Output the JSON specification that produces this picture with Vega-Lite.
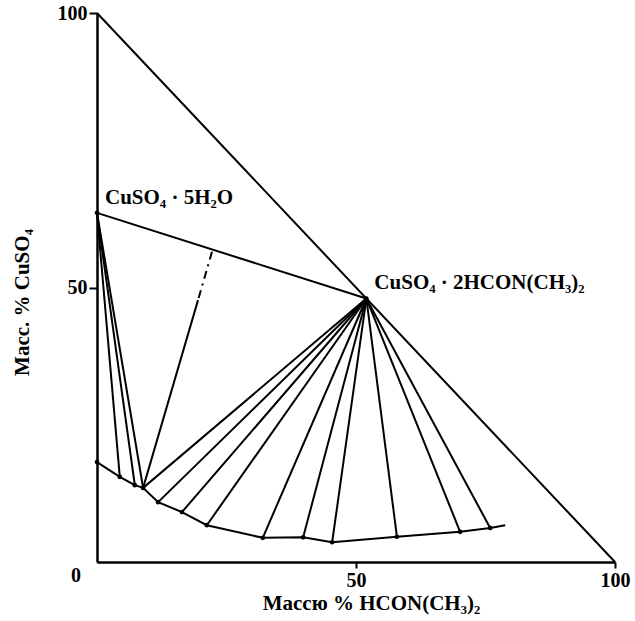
{
  "$schema": "https://vega.github.io/schema/vega-lite/v6.json",
  "autosize": "none",
  "width": 518,
  "height": 549,
  "padding": {"left": 97, "top": 13, "right": 20, "bottom": 59},
  "background": "white",
  "config": {
    "view": {"stroke": null},
    "axis": {
      "grid": false,
      "domainColor": "black",
      "domainWidth": 2.5,
      "tickColor": "black",
      "tickWidth": 2,
      "tickSize": 8,
      "labelFont": "Liberation Serif",
      "labelFontWeight": "bold",
      "labelFontSize": 20,
      "labelColor": "black",
      "titleFont": "Liberation Serif",
      "titleFontWeight": "bold",
      "titleFontSize": 21,
      "titleColor": "black"
    }
  },
  "datasets": {
    "solid": [
      {"id": "hyp", "o": 1, "x": 0, "y": 100},
      {"id": "hyp", "o": 2, "x": 100, "y": 0},
      {"id": "conn", "o": 1, "x": 0, "y": 63.6},
      {"id": "conn", "o": 2, "x": 52, "y": 48},
      {"id": "curve", "o": 1, "x": 0, "y": 18.2},
      {"id": "curve", "o": 2, "x": 4.4, "y": 15.5},
      {"id": "curve", "o": 3, "x": 7.3, "y": 14.0},
      {"id": "curve", "o": 4, "x": 8.9, "y": 13.5},
      {"id": "curve", "o": 5, "x": 11.8, "y": 10.9},
      {"id": "curve", "o": 6, "x": 16.4, "y": 9.1},
      {"id": "curve", "o": 7, "x": 21.2, "y": 6.7},
      {"id": "curve", "o": 8, "x": 32.0, "y": 4.4},
      {"id": "curve", "o": 9, "x": 39.8, "y": 4.5},
      {"id": "curve", "o": 10, "x": 45.4, "y": 3.6},
      {"id": "curve", "o": 11, "x": 57.9, "y": 4.6},
      {"id": "curve", "o": 12, "x": 70.1, "y": 5.5},
      {"id": "curve", "o": 13, "x": 75.9, "y": 6.2},
      {"id": "curve", "o": 14, "x": 78.8, "y": 6.7},
      {"id": "a1", "o": 1, "x": 0, "y": 63.6},
      {"id": "a1", "o": 2, "x": 4.4, "y": 15.5},
      {"id": "a2", "o": 1, "x": 0, "y": 63.6},
      {"id": "a2", "o": 2, "x": 7.3, "y": 14.0},
      {"id": "a3", "o": 1, "x": 0, "y": 63.6},
      {"id": "a3", "o": 2, "x": 8.9, "y": 13.5},
      {"id": "b1", "o": 1, "x": 52, "y": 48},
      {"id": "b1", "o": 2, "x": 8.9, "y": 13.5},
      {"id": "b2", "o": 1, "x": 52, "y": 48},
      {"id": "b2", "o": 2, "x": 11.8, "y": 10.9},
      {"id": "b3", "o": 1, "x": 52, "y": 48},
      {"id": "b3", "o": 2, "x": 16.4, "y": 9.1},
      {"id": "b4", "o": 1, "x": 52, "y": 48},
      {"id": "b4", "o": 2, "x": 21.2, "y": 6.7},
      {"id": "b5", "o": 1, "x": 52, "y": 48},
      {"id": "b5", "o": 2, "x": 32.0, "y": 4.4},
      {"id": "b6", "o": 1, "x": 52, "y": 48},
      {"id": "b6", "o": 2, "x": 39.8, "y": 4.5},
      {"id": "b7", "o": 1, "x": 52, "y": 48},
      {"id": "b7", "o": 2, "x": 45.4, "y": 3.6},
      {"id": "b8", "o": 1, "x": 52, "y": 48},
      {"id": "b8", "o": 2, "x": 57.9, "y": 4.6},
      {"id": "b9", "o": 1, "x": 52, "y": 48},
      {"id": "b9", "o": 2, "x": 70.1, "y": 5.5},
      {"id": "b10", "o": 1, "x": 52, "y": 48},
      {"id": "b10", "o": 2, "x": 75.9, "y": 6.2},
      {"id": "e", "o": 1, "x": 19.5, "y": 47.7},
      {"id": "e", "o": 2, "x": 8.9, "y": 13.5}
    ],
    "dashed": [
      {"id": "d", "o": 1, "x": 22.2, "y": 56.5},
      {"id": "d", "o": 2, "x": 19.5, "y": 47.7}
    ],
    "pts": [
      {"x": 0, "y": 63.6},
      {"x": 52, "y": 48},
      {"x": 0, "y": 18.2},
      {"x": 4.4, "y": 15.5},
      {"x": 7.3, "y": 14.0},
      {"x": 8.9, "y": 13.5},
      {"x": 11.8, "y": 10.9},
      {"x": 16.4, "y": 9.1},
      {"x": 21.2, "y": 6.7},
      {"x": 32.0, "y": 4.4},
      {"x": 39.8, "y": 4.5},
      {"x": 45.4, "y": 3.6},
      {"x": 57.9, "y": 4.6},
      {"x": 70.1, "y": 5.5},
      {"x": 75.9, "y": 6.2}
    ],
    "labels": [
      {"x": 0, "y": 63.6, "t": "CuSO₄ · 5H₂O"},
      {"x": 52, "y": 48, "t": "CuSO₄ · 2HCON(CH₃)₂"}
    ],
    "zero": [
      {"x": 0, "y": 0, "t": "0"}
    ]
  },
  "layer": [
    {
      "data": {"name": "solid"},
      "mark": {"type": "line", "color": "black", "strokeWidth": 2},
      "encoding": {
        "x": {"field": "x", "type": "quantitative", "scale": {"domain": [0, 100], "nice": false},
              "axis": {"values": [50, 100], "title": "Массю % HCON(CH₃)₂", "titleX": 274, "titleY": 41, "titleBaseline": "middle", "labelPadding": 2, "tickSize": 6, "labelFlush": false}},
        "y": {"field": "y", "type": "quantitative", "scale": {"domain": [0, 100], "nice": false},
              "axis": {"values": [50, 100], "title": "Масс. % CuSO₄", "titleX": -75, "titleY": 289, "titleAlign": "center", "titleBaseline": "middle", "labelPadding": 2}},
        "detail": {"field": "id"},
        "order": {"field": "o"}
      }
    },
    {
      "data": {"name": "dashed"},
      "mark": {"type": "line", "color": "black", "strokeWidth": 2, "strokeDash": [8, 5, 2, 5]},
      "encoding": {
        "x": {"field": "x", "type": "quantitative"},
        "y": {"field": "y", "type": "quantitative"},
        "detail": {"field": "id"},
        "order": {"field": "o"}
      }
    },
    {
      "data": {"name": "pts"},
      "mark": {"type": "point", "filled": true, "color": "black", "size": 22, "opacity": 1},
      "encoding": {
        "x": {"field": "x", "type": "quantitative"},
        "y": {"field": "y", "type": "quantitative"}
      }
    },
    {
      "data": {"name": "labels"},
      "mark": {"type": "text", "align": "left", "baseline": "middle", "dx": 8, "dy": -15, "font": "Liberation Serif", "fontWeight": "bold", "fontSize": 21, "color": "black"},
      "encoding": {
        "x": {"field": "x", "type": "quantitative"},
        "y": {"field": "y", "type": "quantitative"},
        "text": {"field": "t"}
      }
    },
    {
      "data": {"name": "zero"},
      "mark": {"type": "text", "align": "center", "baseline": "middle", "dx": -21, "dy": 14, "font": "Liberation Serif", "fontWeight": "bold", "fontSize": 20, "color": "black"},
      "encoding": {
        "x": {"field": "x", "type": "quantitative"},
        "y": {"field": "y", "type": "quantitative"},
        "text": {"field": "t"}
      }
    }
  ]
}
